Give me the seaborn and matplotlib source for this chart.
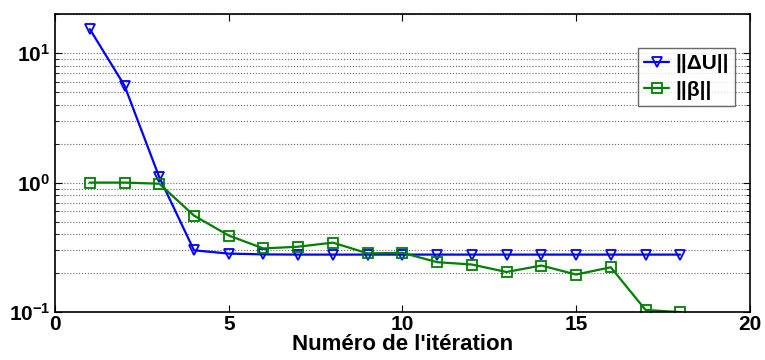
import numpy as np
import pandas as pd
import seaborn as sns
import matplotlib
matplotlib.use("Agg")
import matplotlib.pyplot as plt
from matplotlib.ticker import LogLocator, NullFormatter

iterations = list(range(1, 19))
delta_u = [15.3, 5.6, 1.1, 0.30, 0.283, 0.279, 0.278, 0.278, 0.278, 0.278,
           0.278, 0.278, 0.278, 0.278, 0.278, 0.278, 0.278, 0.278]
beta = [1.0, 1.0, 0.98, 0.556, 0.39, 0.31, 0.32, 0.344, 0.284, 0.287,
        0.243, 0.233, 0.204, 0.229, 0.195, 0.222, 0.104, 0.100]
labels = ["||ΔU||", "||β||"]
colors = ["#0000ff", "#007f00"]
markers = ["v", "s"]

df = pd.DataFrame({
    "iteration": iterations * 2,
    "value": delta_u + beta,
    "serie": [labels[0]] * len(iterations) + [labels[1]] * len(iterations),
})

sns.set_style("ticks")
plt.rcParams['font.family'] = ['Liberation Sans', 'DejaVu Sans']
plt.rcParams['font.weight'] = 'bold'
plt.rcParams['mathtext.fontset'] = 'custom'
plt.rcParams['mathtext.rm'] = 'Liberation Sans:bold'
plt.rcParams['mathtext.bf'] = 'Liberation Sans:bold'
plt.rcParams['mathtext.default'] = 'bf'
for key in ['text.color', 'axes.labelcolor', 'xtick.color', 'ytick.color']:
    plt.rcParams[key] = 'black'

fig = plt.figure(figsize=(7.65, 3.6), dpi=100)
ax = fig.add_axes([0.072, 0.133, 0.908, 0.828])

for lab, col, mk in zip(labels, colors, markers):
    sub = df[df["serie"] == lab]
    sns.lineplot(data=sub, x="iteration", y="value", ax=ax, color=col,
                 marker=mk, markersize=6.5, markerfacecolor="none",
                 markeredgecolor=col, markeredgewidth=1.3, linewidth=1.6,
                 label=lab)

ax.set_yscale("log")
ax.set_xlim(0, 20)
ax.set_ylim(0.1, 20)
ax.set_xticks([0, 5, 10, 15, 20])
ax.yaxis.set_minor_locator(LogLocator(base=10, subs=np.arange(2, 10)))
ax.yaxis.set_minor_formatter(NullFormatter())
ax.grid(True, which="both", axis="y", linestyle=":", color="#666666", linewidth=0.8)
ax.grid(False, axis="x")
ax.tick_params(direction="in", which="both", top=True, right=True, labelsize=15)
ax.tick_params(which="major", length=5)
ax.tick_params(which="minor", length=3)
ax.tick_params(axis="x", pad=2)
for s in ax.spines.values():
    s.set_linewidth(1.2)
    s.set_color("black")

ax.set_xlabel("Numéro de l'itération", fontsize=16, fontweight="bold", labelpad=0)
ax.set_ylabel("")

leg = ax.legend(loc="upper right", bbox_to_anchor=(0.985, 0.9), fontsize=15,
                frameon=True, fancybox=False, edgecolor="#444444",
                handlelength=1.2, handletextpad=0.3, borderpad=0.3,
                labelspacing=0.35, borderaxespad=0.2)
leg.get_frame().set_linewidth(1.0)

fig.savefig("out.png", dpi=100)
